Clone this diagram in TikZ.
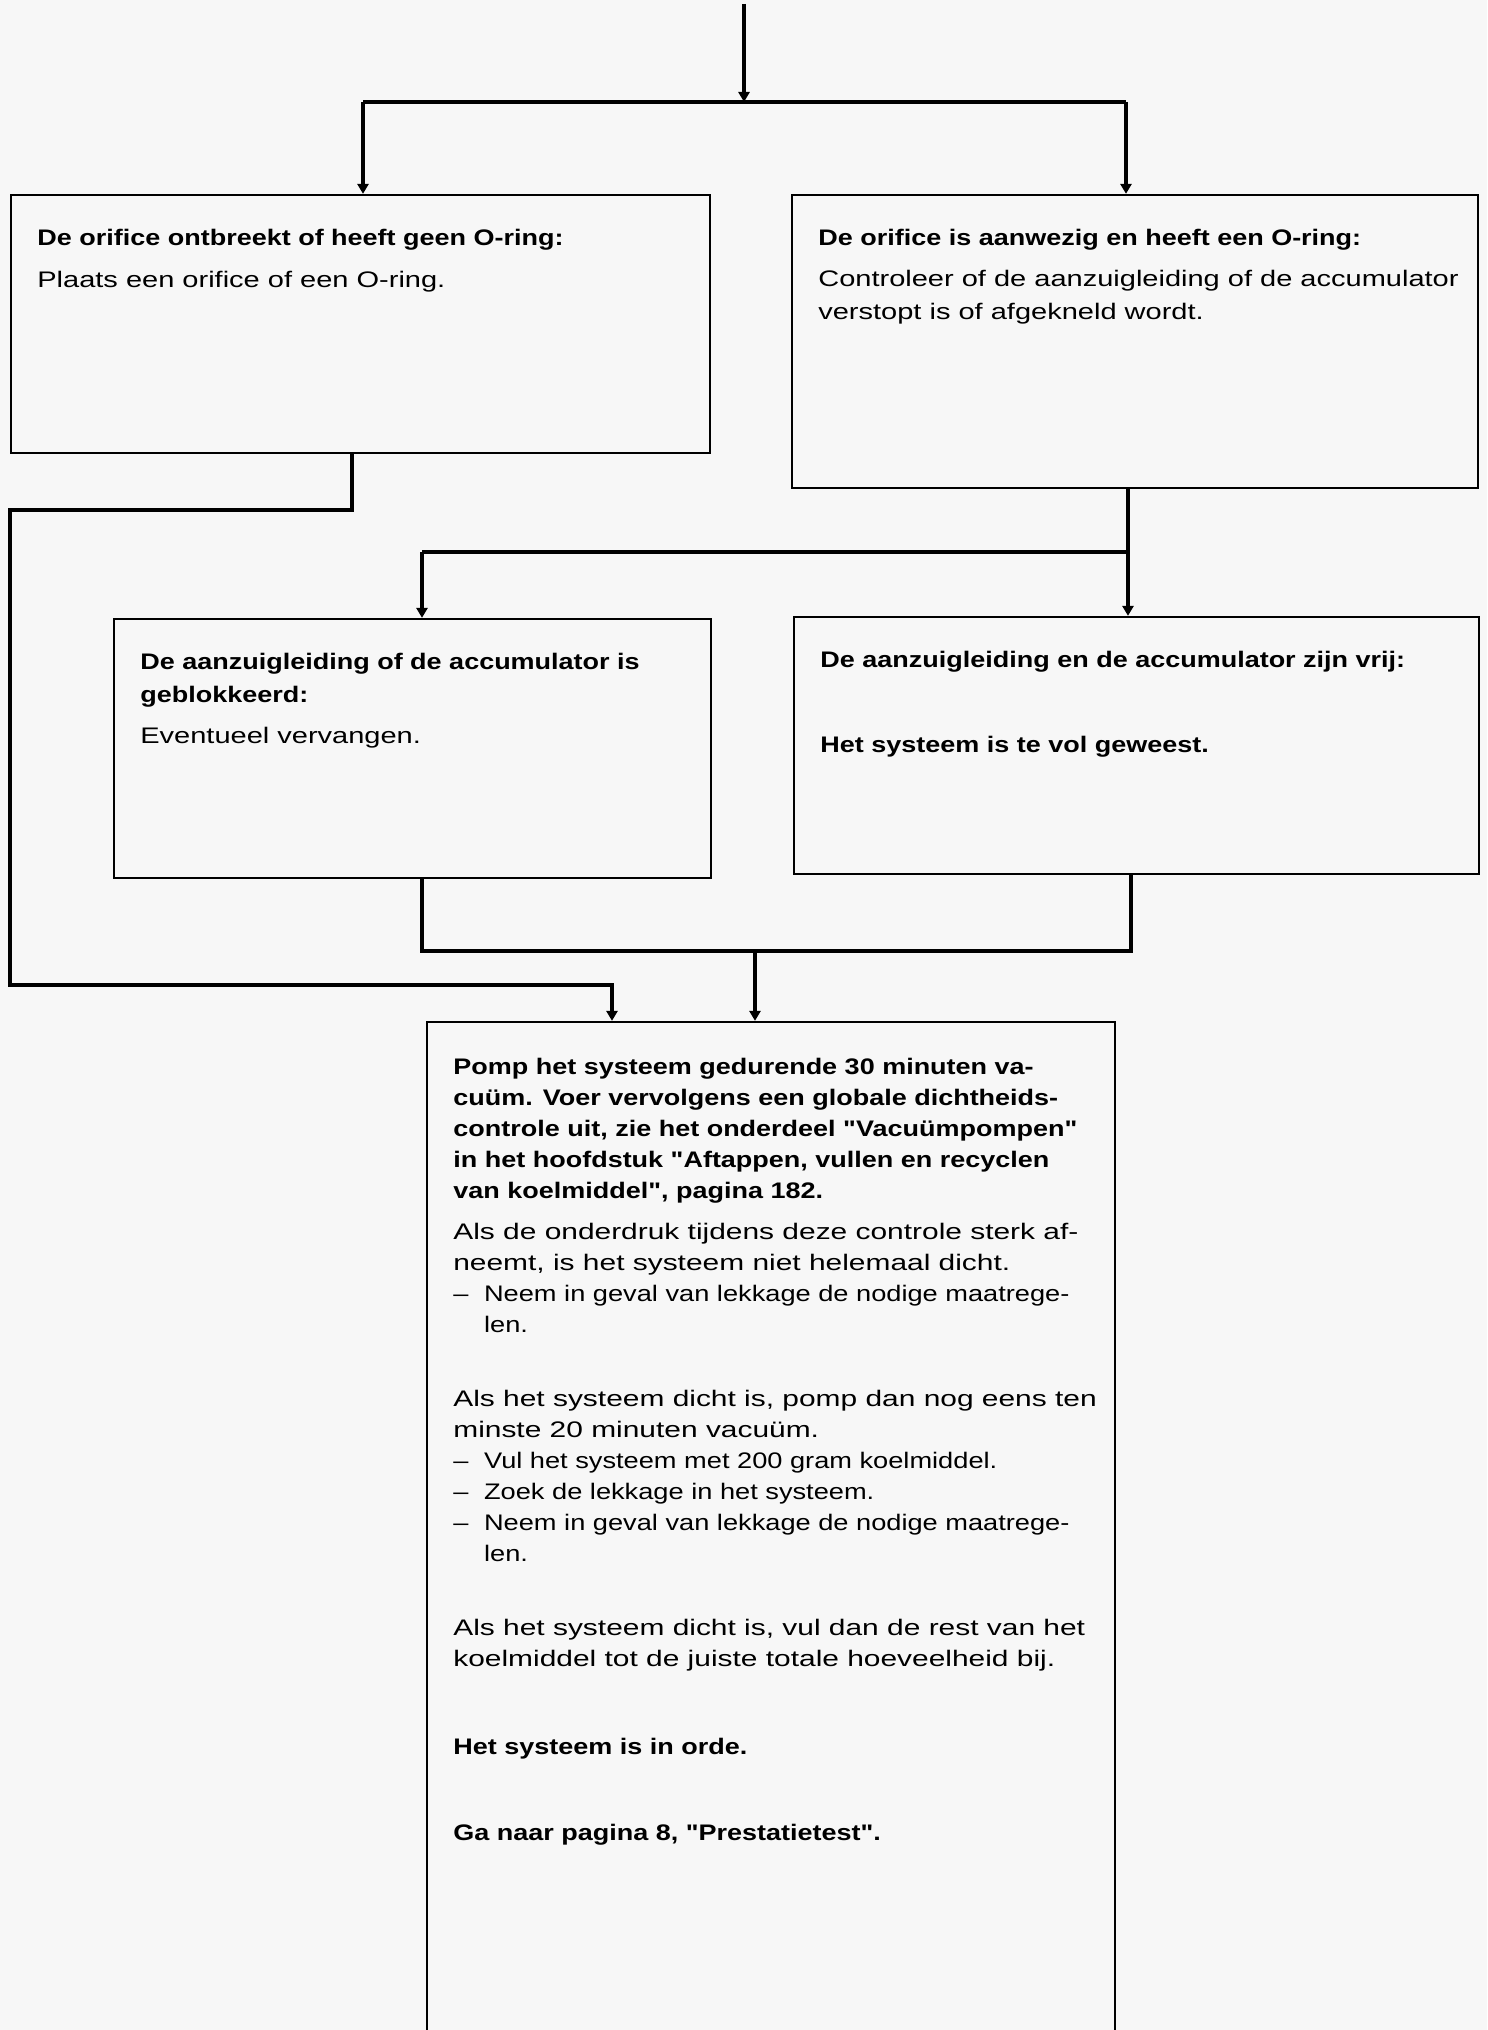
\documentclass[tikz,border=0pt]{standalone}
\usepackage{fontspec}
\usetikzlibrary{arrows.meta,fit}

% type: scanned Helvetica, drawn wide
\newfontfamily\hdfam[FakeStretch=1.2]{Liberation Sans}
\newfontfamily\bdfam[FakeStretch=1.29]{Liberation Sans}
\newfontfamily\bxfam[FakeStretch=1.33]{Liberation Sans}
\newfontfamily\itemfam[FakeStretch=1.21]{Liberation Sans}
\newcommand\topsize{\fontsize{12.8pt}{18.5pt}\selectfont}
\newcommand\boxsize{\fontsize{12.8pt}{17.64pt}\selectfont}
\newcommand\dashitem{\makebox[17.5pt][l]{–}}
\newcommand\dashind{\hspace*{17.5pt}}

\begin{document}
\begin{tikzpicture}[
    x=0.02cm, y=-0.02cm,
    box/.style={draw, line width=1.3pt, inner sep=0pt},
    conn/.style={line width=1.8pt},
    arr/.style={conn, -{Triangle[length=5.7pt,width=6.3pt]}},
    txt/.style={anchor=north west, inner sep=0pt, align=left},
    hdtext/.style={txt, font=\hdfam\bfseries\topsize},
    bdtext/.style={txt, font=\bdfam\topsize},
    bxhd/.style={txt, font=\hdfam\bfseries\boxsize},
    bxbd/.style={txt, font=\bxfam\boxsize}
]

% page
\useasboundingbox (0,0) rectangle (1487,2030);
\clip (0,0) rectangle (1487,2030);
\fill[gray!6] (0,0) rectangle (1487,2030);

% boxes
\node[box, fit={(11,195) (710,453)}] (b1l) {};
\node[box, fit={(792,195) (1478,488)}] (b1r) {};
\node[box, fit={(114,619) (711,878)}] (b2l) {};
\node[box, fit={(794,617) (1479,874)}] (b2r) {};
\node[box, fit={(427,1022) (1115,2070)}] (b3) {};

% texts
\node[hdtext] (t1a) at (37,229) {De orifice ontbreekt of heeft geen O-ring:};
\node[bdtext] (t1b) at (37,271) {Plaats een orifice of een O-ring.};

\node[hdtext] (t2a) at (818,229) {De orifice is aanwezig en heeft een O-ring:};
\node[bdtext] (t2b) at (818,270) {Controleer of de aanzuigleiding of de accumulator\\verstopt is of afgekneld wordt.};

\node[hdtext] (t3a) at (140,653) {De aanzuigleiding of de accumulator is\\geblokkeerd:};
\node[bdtext] (t3b) at (140,727) {Eventueel vervangen.};

\node[hdtext] (t4a) at (820,651) {De aanzuigleiding en de accumulator zijn vrij:};
\node[hdtext] (t4b) at (820,736) {Het systeem is te vol geweest.};

\node[bxhd] (t5a) at (453,1058) {Pomp het systeem gedurende 30 minuten va-\\cuüm. Voer vervolgens een globale dichtheids-\\controle uit, zie het onderdeel "Vacuümpompen"\\in het hoofdstuk "Aftappen, vullen en recyclen\\van koelmiddel", pagina 182.};
\node[bxbd] (t5b) at (453,1223) {Als de onderdruk tijdens deze controle sterk af-\\neemt, is het systeem niet helemaal dicht.\\{\itemfam\dashitem Neem in geval van lekkage de nodige maatrege-}\\{\itemfam\dashind len.}};
\node[bxbd] (t5c) at (453,1390) {Als het systeem dicht is, pomp dan nog eens ten\\minste 20 minuten vacuüm.\\{\itemfam\dashitem Vul het systeem met 200 gram koelmiddel.}\\{\itemfam\dashitem Zoek de lekkage in het systeem.}\\{\itemfam\dashitem Neem in geval van lekkage de nodige maatrege-}\\{\itemfam\dashind len.}};
\node[bxbd] (t5d) at (453,1619) {Als het systeem dicht is, vul dan de rest van het\\koelmiddel tot de juiste totale hoeveelheid bij.};
\node[bxhd] (t5e) at (453,1738) {Het systeem is in orde.};
\node[bxhd] (t5f) at (453,1824) {Ga naar pagina 8, "Prestatietest".};

% junctions
\coordinate (in) at (744,4);
\coordinate (s1) at (744,102);
\coordinate (s1l) at (363,102);
\coordinate (s1r) at (1126,102);
\coordinate (l1) at (352,510);
\coordinate (l2) at (10,985);
\coordinate (l3) at (612,985);
\coordinate (r1) at (1128,552);
\coordinate (m1) at (422,552);
\coordinate (m2) at (422,951);
\coordinate (r2) at (1131,951);
\coordinate (m3) at (755,951);

% connectors
\draw[arr] (in) -- (s1);
\draw[conn] (s1l) -- (s1r);
\draw[arr] (s1l) -- (s1l |- b1l.north);
\draw[arr] (s1r) -- (s1r |- b1r.north);

\draw[arr] (b1l.south -| l1) -- (l1) -| (l2) -- (l3) -- (l3 |- b3.north);

\draw[conn] (b1r.south -| r1) -- (r1) -- (m1);
\draw[arr] (m1) -- (m1 |- b2l.north);
\draw[arr] (r1) -- (r1 |- b2r.north);

\draw[conn] (b2l.south -| m2) -- (m2) -- (r2) -- (r2 |- b2r.south);
\draw[arr] (m3) -- (m3 |- b3.north);

\end{tikzpicture}
\end{document}
